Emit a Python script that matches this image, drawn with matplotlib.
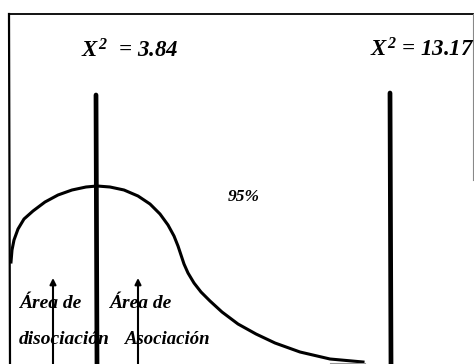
import matplotlib
matplotlib.use("Agg")
import matplotlib.pyplot as plt

# curve (pixel coordinates, y grows downward)
curve_x = [11, 12, 14, 18, 24, 33, 45, 58, 72, 86, 97, 110, 124, 138, 150, 160, 168, 174, 178, 181, 184, 188, 194, 201, 210, 222, 238, 256, 275, 300, 330, 363]
curve_y = [262, 250, 240, 229, 219, 211, 202, 195, 190, 187, 186, 187, 190, 196, 204, 214, 225, 236, 246, 255, 264, 273, 283, 292, 301, 312, 324, 334, 343, 352, 359, 362]

crit_labels = ["$X^2$  = 3.84", "$X^2$ = 13.17"]
crit_x = [96, 390]
crit_top = [95, 93]

arrow_x = [53, 138]
area_labels = [("Área de", "disociación"), ("Área de", "Asociación")]
pct_label = "95%"

W, H = 474, 364
fig = plt.figure(figsize=(W / 100, H / 100), dpi=100)
ax = fig.add_axes([0, 0, 1, 1])
ax.set_xlim(0, W)
ax.set_ylim(H, 0)
ax.axis("off")

font = dict(family="Liberation Serif", style="italic", weight="bold")
plt.rcParams["mathtext.fontset"] = "custom"
plt.rcParams["mathtext.it"] = "Liberation Serif:italic:bold"
plt.rcParams["mathtext.bf"] = "Liberation Serif:italic:bold"
plt.rcParams["mathtext.rm"] = "Liberation Serif:italic:bold"

# frame
ax.plot([9, 473], [14, 14], color="black", lw=1.3)
ax.plot([9, 10], [14, 364], color="black", lw=1.6)
ax.plot([473, 473], [14, 180], color="#888888", lw=0.8)

# critical values
ax.text(81, 51, crit_labels[0], fontsize=16.5, va="center", ha="left", **font)
ax.text(370, 50, crit_labels[1], fontsize=16.5, va="center", ha="left", **font)
for x, top in zip(crit_x, crit_top):
    ax.plot([x, x + 1], [top, H], color="black", lw=3.4, solid_capstyle="round")

# distribution curve
ax.plot(curve_x, curve_y, color="black", lw=2.2)
ax.plot([330, 365], [363, 363], color="#999999", lw=0.8)

ax.text(244, 197, pct_label, fontsize=12.5, ha="center", va="center", **font)

# arrows into the areas
for x in arrow_x:
    ax.annotate("", xy=(x, 278), xytext=(x, H + 2),
                arrowprops=dict(arrowstyle="-|>", color="black", lw=1.5,
                                mutation_scale=9, shrinkA=0, shrinkB=0))

ax.text(19, 304, area_labels[0][0], fontsize=14, ha="left", va="center", **font)
ax.text(19, 339, area_labels[0][1], fontsize=14, ha="left", va="center", **font)
ax.text(109, 304, area_labels[1][0], fontsize=14, ha="left", va="center", **font)
ax.text(125, 339, area_labels[1][1], fontsize=13.5, ha="left", va="center", **font)

fig.savefig("out.png", dpi=100)
